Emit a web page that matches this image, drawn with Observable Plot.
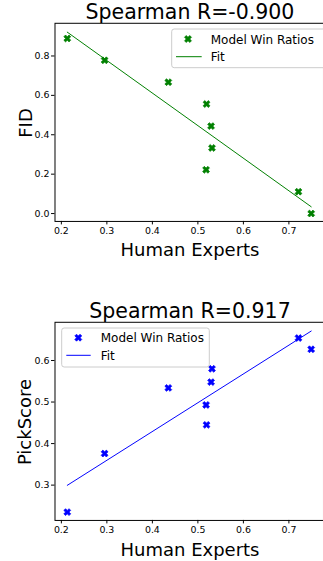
<!DOCTYPE html>
<html>
<head>
<meta charset="utf-8">
<script src="https://cdn.jsdelivr.net/npm/d3@7"></script>
<script src="https://cdn.jsdelivr.net/npm/@observablehq/plot@0.6"></script>
<style>
  html, body { margin: 0; padding: 0; background: white; }
  #wrap { position: relative; width: 323px; height: 561px; overflow: hidden; background: white; font-family: "DejaVu Sans", sans-serif; }
  .panel { position: absolute; left: 0; }
  #overlay { position: absolute; left: 0; top: 0; pointer-events: none; }
</style>
</head>
<body>
<div id="wrap"></div>
<script>
// ---- data ----
const humanExperts = [0.213, 0.295, 0.435, 0.519, 0.529, 0.531, 0.518, 0.721, 0.749];
const fid          = [0.889, 0.778, 0.667, 0.556, 0.444, 0.333, 0.222, 0.111, 0.000];
const pickScore    = [0.235, 0.376, 0.534, 0.445, 0.548, 0.580, 0.493, 0.654, 0.627];
const titles = ["Spearman R=-0.900", "Spearman R=0.917"];
const yLabels = ["FID", "PickScore"];
const xLabel = "Human Experts";
const legendLabels = ["Model Win Ratios", "Fit"];
const xTicks = [0.2, 0.3, 0.4, 0.5, 0.6, 0.7];
const fidTicks = [0.0, 0.2, 0.4, 0.6, 0.8];
const pickTicks = [0.3, 0.4, 0.5, 0.6];

// matplotlib-like filled "X" marker
const xFilled = {
  draw(ctx, size) {
    const L = Math.sqrt(size / Math.PI), t = L / 3, s = Math.SQRT1_2;
    const pts = [[-t,-L],[t,-L],[t,-t],[L,-t],[L,t],[t,t],[t,L],[-t,L],[-t,t],[-L,t],[-L,-t],[-t,-t]]
      .map(([x, y]) => [(x - y) * s, (x + y) * s]);
    ctx.moveTo(pts[0][0], pts[0][1]);
    for (let i = 1; i < pts.length; i++) ctx.lineTo(pts[i][0], pts[i][1]);
    ctx.closePath();
  }
};

const wrap = document.getElementById("wrap");

function panel(yValues, yTicks, yDomain, color, top) {
  const data = humanExperts.map((x, i) => ({x, y: yValues[i]}));
  const chart = Plot.plot({
    width: 326, height: 270,
    marginLeft: 55, marginRight: 0, marginTop: 23, marginBottom: 47,
    style: {fontFamily: "DejaVu Sans", fontSize: "9.5px", color: "black", background: "transparent"},
    x: {domain: [0.186, 0.776], ticks: xTicks, tickFormat: d => d.toFixed(1), tickSize: 3.5, tickPadding: 2.5, label: null},
    y: {domain: yDomain, ticks: yTicks, tickFormat: d => d.toFixed(1), tickSize: 3.5, tickPadding: 2, label: null},
    marks: [
      Plot.frame({stroke: "black", strokeWidth: 1}),
      Plot.linearRegressionY(data, {x: "x", y: "y", stroke: color, strokeWidth: 1, ci: 0}),
      Plot.dot(data, {x: "x", y: "y", symbol: xFilled, r: 3.7, fill: color, stroke: color, strokeWidth: 0.7})
    ]
  });
  chart.classList.add("panel");
  chart.style.top = top + "px";
  wrap.appendChild(chart);
}

panel(fid, fidTicks, [-0.040, 0.966], "green", 0);
panel(pickScore, pickTicks, [0.215, 0.692], "blue", 299);

// ---- overlay text: titles, axis labels, legends ----
const svg = d3.select(wrap).append("svg")
  .attr("id", "overlay").attr("width", 323).attr("height", 561)
  .style("font-family", "DejaVu Sans");

const layout = [
  {title: titles[0], titleY: 18.5, xLabY: 256, yLab: yLabels[0], yLabX: 31.5, yLabY: 123, color: "green",
   leg: {x0: 171.7, y0: 29, x1: 330, y1: 67.7, mx: 188, my: 39, lx0: 176, lx1: 201.7, ly: 56.7, tx: 210.7, t1: 43.5, t2: 60.8}},
  {title: titles[1], titleY: 318.3, xLabY: 555.5, yLab: yLabels[1], yLabX: 30.5, yLabY: 422, color: "blue",
   leg: {x0: 61.7, y0: 328, x1: 209.3, y1: 367, mx: 78.3, my: 337.7, lx0: 66.3, lx1: 90.7, ly: 355.3, tx: 100.7, t1: 342.2, t2: 359.5}}
];

const symPath = d3.symbol().type(xFilled).size(Math.PI * 3.7 * 3.7)();

layout.forEach(p => {
  svg.append("text").attr("x", 190).attr("y", p.titleY).attr("text-anchor", "middle")
    .attr("font-size", "20.5px").attr("fill", "black").text(p.title);
  svg.append("text").attr("x", 190).attr("y", p.xLabY).attr("text-anchor", "middle")
    .attr("font-size", "18px").attr("fill", "black").text(xLabel);
  svg.append("text").attr("transform", `translate(${p.yLabX},${p.yLabY}) rotate(-90)`).attr("text-anchor", "middle")
    .attr("font-size", "18px").attr("fill", "black").text(p.yLab);
  const L = p.leg;
  svg.append("rect").attr("x", L.x0).attr("y", L.y0).attr("width", L.x1 - L.x0).attr("height", L.y1 - L.y0)
    .attr("rx", 2.5).attr("fill", "white").attr("fill-opacity", 0.8).attr("stroke", "#cccccc").attr("stroke-width", 1);
  svg.append("path").attr("d", symPath).attr("transform", `translate(${L.mx},${L.my})`)
    .attr("fill", p.color).attr("stroke", p.color).attr("stroke-width", 0.7);
  svg.append("line").attr("x1", L.lx0).attr("x2", L.lx1).attr("y1", L.ly).attr("y2", L.ly)
    .attr("stroke", p.color).attr("stroke-width", 1);
  svg.append("text").attr("x", L.tx).attr("y", L.t1).attr("font-size", "12px").attr("fill", "black").text(legendLabels[0]);
  svg.append("text").attr("x", L.tx).attr("y", L.t2).attr("font-size", "12px").attr("fill", "black").text(legendLabels[1]);
});
</script>
</body>
</html>
